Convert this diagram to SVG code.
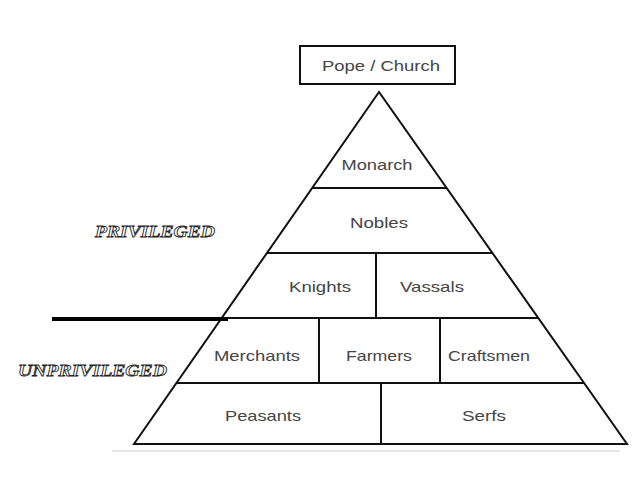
<svg xmlns="http://www.w3.org/2000/svg" width="638" height="479" viewBox="0 0 638 479">
<style>
.l{stroke:#111;stroke-width:2;fill:none}
.t{font-family:"Liberation Sans",Arial,sans-serif;font-size:15px;fill:#444;text-anchor:middle}
.s{font-family:"Liberation Serif","Times New Roman",serif;font-size:17px;font-style:italic;font-weight:bold;fill:#fff;stroke:#222;stroke-width:0.8}
</style>
<rect width="638" height="479" fill="#fff"/>
<g id="pope"><rect x="300" y="46" width="155" height="38" class="l"/><text x="381" y="71" class="t" textLength="118" lengthAdjust="spacingAndGlyphs">Pope / Church</text></g>
<g id="connectors">
<polygon points="379,92 134,444 627,444" class="l"/>
<line x1="312" y1="188" x2="447" y2="188" class="l"/>
<line x1="267" y1="253" x2="492" y2="253" class="l"/>
<line x1="222" y1="318" x2="538" y2="318" class="l"/>
<line x1="177" y1="383" x2="584" y2="383" class="l"/>
<line x1="376" y1="253" x2="376" y2="318" class="l"/>
<line x1="319" y1="318" x2="319" y2="383" class="l"/>
<line x1="440" y1="318" x2="440" y2="383" class="l"/>
<line x1="381" y1="383" x2="381" y2="444" class="l"/>
<line x1="52" y1="319" x2="228" y2="319" stroke="#000" stroke-width="4"/>
<line x1="112" y1="451" x2="620" y2="451" stroke="#ccc" stroke-width="1"/>
</g>
<g id="monarch"><text x="377" y="170" class="t" textLength="71" lengthAdjust="spacingAndGlyphs">Monarch</text></g>
<g id="nobles"><text x="379" y="228" class="t" textLength="58" lengthAdjust="spacingAndGlyphs">Nobles</text></g>
<g id="knights"><text x="320" y="292" class="t" textLength="62" lengthAdjust="spacingAndGlyphs">Knights</text></g>
<g id="vassals"><text x="432" y="292" class="t" textLength="64" lengthAdjust="spacingAndGlyphs">Vassals</text></g>
<g id="merchants"><text x="257" y="361" class="t" textLength="86" lengthAdjust="spacingAndGlyphs">Merchants</text></g>
<g id="farmers"><text x="379" y="361" class="t" textLength="66" lengthAdjust="spacingAndGlyphs">Farmers</text></g>
<g id="craftsmen"><text x="489" y="361" class="t" textLength="82" lengthAdjust="spacingAndGlyphs">Craftsmen</text></g>
<g id="peasants"><text x="263" y="421" class="t" textLength="76" lengthAdjust="spacingAndGlyphs">Peasants</text></g>
<g id="serfs"><text x="484" y="421" class="t" textLength="44" lengthAdjust="spacingAndGlyphs">Serfs</text></g>
<text x="95" y="237" class="s" textLength="120" lengthAdjust="spacingAndGlyphs">PRIVILEGED</text>
<text x="18" y="376" class="s" textLength="149" lengthAdjust="spacingAndGlyphs">UNPRIVILEGED</text>
</svg>
